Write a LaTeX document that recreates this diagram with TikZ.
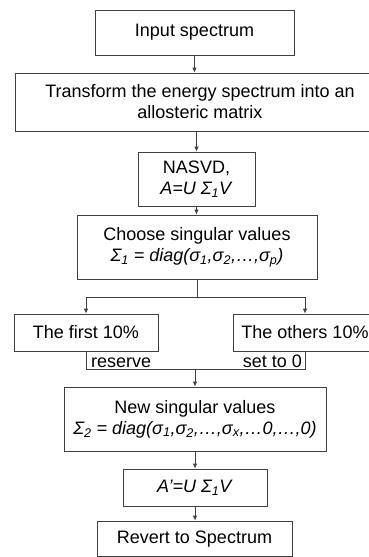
\documentclass[tikz,border=0pt]{standalone}
\usepackage{fontspec}
\setmainfont{Liberation Sans}
\usetikzlibrary{arrows.meta}
\newcommand{\sbs}[1]{\textsubscript{#1}}

\tikzset{
  stepbox/.style={draw=black!75, line width=0.8pt, inner sep=0pt, align=center,
    font=\fontsize{18}{21}\selectfont},
  lbl/.style={inner sep=0pt, font=\fontsize{18}{21}\selectfont},
  arr/.style={draw=black!75, line width=0.8pt, -{Latex[length=5pt,width=4.5pt]}},
  lnk/.style={draw=black!75, line width=0.8pt},
}

\begin{document}
\begin{tikzpicture}[x=1pt, y=-1pt]
    \useasboundingbox (0,0) rectangle (369,557);
    \node[stepbox, minimum width=199, minimum height=45] (input) at (194.5,32.5) {Input spectrum};
    \node[stepbox, minimum width=370, minimum height=58] (transform) at (200,102) {Transform the energy spectrum into an\\allosteric matrix};
    \node[stepbox, minimum width=117, minimum height=54] (nasvd) at (196.5,179) {NASVD,\\\textit{A=U Σ\sbs{1}V}};
    \node[stepbox, minimum width=240, minimum height=64] (choose) at (197,247) {Choose singular values\\\textit{Σ\sbs{1} = diag(σ\sbs{1},σ\sbs{2},…,σ\sbs{p})}};
    \node[stepbox, minimum width=144, minimum height=37] (first) at (86,332.5) {The first 10\%};
    \node[stepbox, minimum width=144, minimum height=37] (others) at (305,332.5) {The others 10\%};
    \node[stepbox, minimum width=262, minimum height=64] (newsv) at (195,419) {New singular values\\\textit{Σ\sbs{2} = diag(σ\sbs{1},σ\sbs{2},…,σ\sbs{x},…0,…,0)}};
    \node[stepbox, minimum width=144, minimum height=37] (aprime) at (195,487.5) {\textit{A'=U Σ\sbs{1}V}};
    \node[stepbox, minimum width=195, minimum height=35.5] (revert) at (194.5,538.75) {Revert to Spectrum};
    % main line
    \draw[arr] (input.south) -- (input.south |- transform.north);
    \draw[arr] (nasvd.north |- transform.south) -- (nasvd.north);
    \draw[arr] (nasvd.south) -- (nasvd.south |- choose.north);
    % split
    \coordinate (split) at (197,297);
    \draw[lnk] (choose.south) -- (split);
    \draw[arr] (split) -| (first.north);
    \draw[arr] (split) -| (others.north);
    % merge
    \coordinate (merge) at (195,369);
    \draw[lnk] (first.south) -- (first.south |- merge) -- (others.south |- merge) -- (others.south);
    \node[lbl, anchor=base west] (reserve) at (91,367) {reserve};
    \node[lbl, anchor=base east] (setzero) at (302,367) {set to 0};
    \draw[arr] (merge) -- (merge |- newsv.north);
    \draw[arr] (newsv.south) -- (newsv.south |- aprime.north);
    \draw[arr] (aprime.south) -- (aprime.south |- revert.north);
\end{tikzpicture}
\end{document}
